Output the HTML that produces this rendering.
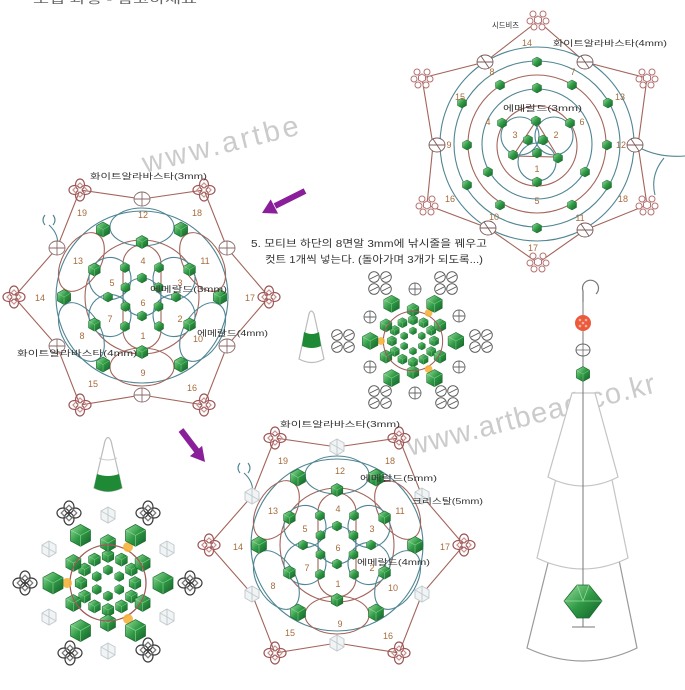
<!DOCTYPE html>
<html><head><meta charset="utf-8">
<style>html,body{margin:0;padding:0;background:#fff}svg{display:block}</style>
</head><body>
<svg width="685" height="690" viewBox="0 0 685 690" xmlns="http://www.w3.org/2000/svg">
<style>
.n{font-family:"Liberation Sans",sans-serif;font-size:9px;fill:#a66c3c;text-anchor:middle}
.k{font-family:"Liberation Sans","Noto Sans CJK KR",sans-serif;font-size:8px;fill:#333}
.t{fill:none;stroke:#4f8593;stroke-width:1.1}
.b{fill:none;stroke:#a3645a;stroke-width:1.1}
.w{font-family:"Liberation Sans",sans-serif;fill:#cbcbcb}
</style>
<defs>
<linearGradient id="gg" x1="0" y1="0" x2="1" y2="1">
<stop offset="0" stop-color="#9be0a0"/><stop offset=".5" stop-color="#2f9a45"/><stop offset="1" stop-color="#145f28"/>
</linearGradient>
<g id="g5"><polygon points="0,-5 4.5,-2.5 4.5,2.5 0,5 -4.5,2.5 -4.5,-2.5" fill="url(#gg)" stroke="#1a6a2c" stroke-width=".5"/></g>
<g id="g6"><polygon points="0,-6.5 5.8,-3.3 5.8,3.3 0,6.5 -5.8,3.3 -5.8,-3.3" fill="url(#gg)" stroke="#1a6a2c" stroke-width=".6"/><path d="M-5.8,-3.3L0,0L5.8,-3.3M0,0V6.5" stroke="#a8e6ad" stroke-width=".5" fill="none" opacity=".7"/></g>
<g id="g7"><polygon points="0,-7.5 6.6,-3.8 6.6,3.8 0,7.5 -6.6,3.8 -6.6,-3.8" fill="url(#gg)" stroke="#1a6a2c" stroke-width=".6"/><path d="M-6.6,-3.8L0,0L6.6,-3.8M0,0V7.5" stroke="#a8e6ad" stroke-width=".5" fill="none" opacity=".7"/></g>
<g id="g8"><polygon points="0,-8.5 7.5,-4.3 7.5,4.3 0,8.5 -7.5,4.3 -7.5,-4.3" fill="url(#gg)" stroke="#1a6a2c" stroke-width=".6"/><path d="M-7.5,-4.3L0,0L7.5,-4.3M0,0V8.5" stroke="#a8e6ad" stroke-width=".6" fill="none" opacity=".7"/></g>
<g id="g11"><polygon points="0,-11 10,-5.5 10,5.5 0,11 -10,5.5 -10,-5.5" fill="url(#gg)" stroke="#1a6a2c" stroke-width=".7"/><path d="M-10,-5.5L0,0L10,-5.5M0,0V11" stroke="#a8e6ad" stroke-width=".7" fill="none" opacity=".7"/></g>
<g id="cxa" fill="#fff" stroke="#7a5a5a" stroke-width=".9"><ellipse rx="8" ry="7"/><path d="M-8,0H8M-4,-6L4,6" fill="none"/></g>
<g id="cx" fill="#fff" stroke="#8a6a6a" stroke-width=".9"><ellipse rx="8" ry="7"/><path d="M-8,0H8M0,-7V7" fill="none"/></g>
<g id="cs" fill="#fff" stroke="#666" stroke-width=".9"><circle r="6"/><path d="M-6,0H6M0,-6V6" fill="none"/></g>
<g id="cf" fill="#f1f4f5" stroke="#c3cbcf" stroke-width="1"><polygon points="0,-8 7,-4 7,4 0,8 -7,4 -7,-4"/><path d="M0,-8V8M-7,-4L7,4" fill="none"/></g>
<g id="pc" fill="#fff" stroke="#b47272" stroke-width="1">
<polygon points="0,-4 3.5,-2 3.5,2 0,4 -3.5,2 -3.5,-2"/>
<circle cx="-5" cy="-6" r="3"/><circle cx="5" cy="-6" r="3"/><circle cx="8" cy="1" r="3"/><circle cx="4" cy="7" r="3"/><circle cx="-4" cy="7" r="3"/><circle cx="-8" cy="1" r="3"/>
</g>
<g id="kp" fill="none" stroke="#9c5656" stroke-width="1.2">
<ellipse cx="0" cy="-5.5" rx="4.5" ry="5.5"/><ellipse cx="5.5" cy="0" rx="5.5" ry="4.5"/>
<ellipse cx="0" cy="5.5" rx="4.5" ry="5.5"/><ellipse cx="-5.5" cy="0" rx="5.5" ry="4.5"/>
<rect x="-5" y="-5" width="10" height="10" transform="rotate(45)" stroke="#c79090"/>
<circle r="1.8" fill="#fff" stroke="none"/>
</g>
<g id="kd" fill="none" stroke="#3c3c3c" stroke-width="1.2">
<ellipse cx="0" cy="-6" rx="5" ry="6"/><ellipse cx="6" cy="0" rx="6" ry="5"/>
<ellipse cx="0" cy="6" rx="5" ry="6"/><ellipse cx="-6" cy="0" rx="6" ry="5"/>
<rect x="-5.5" y="-5.5" width="11" height="11" transform="rotate(45)" stroke="#777"/>
</g>
<g id="cl" fill="#fff" stroke="#555" stroke-width=".9">
<circle cx="-6" cy="-6" r="5.3"/><circle cx="6" cy="-6" r="5.3"/><circle cx="-6" cy="6" r="5.3"/><circle cx="6" cy="6" r="5.3"/>
<path d="M-10,-4L-2,-8M2,-4L10,-8M-10,8L-2,4M2,8L10,4" fill="none"/>
</g>
<g id="flw">
<path class="b" d="M-62,-107 L-85,-49 L-128,0 L-85,49 L-62,108 L0,98 L62,108 L85,49 L127,0 L85,-49 L62,-107 L0,-98 Z"/>
<circle class="t" r="86"/>
<circle class="b" r="57"/>
<ellipse class="t" transform="rotate(-90) translate(70,0)" rx="19" ry="32"/>
<ellipse class="b" transform="rotate(-30) translate(70,0)" rx="19" ry="32"/>
<ellipse class="t" transform="rotate(30) translate(70,0)" rx="19" ry="32"/>
<ellipse class="b" transform="rotate(90) translate(70,0)" rx="19" ry="32"/>
<ellipse class="t" transform="rotate(150) translate(70,0)" rx="19" ry="32"/>
<ellipse class="b" transform="rotate(210) translate(70,0)" rx="19" ry="32"/>
<rect class="b" x="-19" y="-52" width="38" height="104" rx="19"/>
<circle class="t" transform="rotate(-30) translate(37,0)" r="21"/>
<circle class="t" transform="rotate(30) translate(37,0)" r="21"/>
<circle class="t" transform="rotate(150) translate(37,0)" r="21"/>
<circle class="t" transform="rotate(210) translate(37,0)" r="21"/>
<circle class="t" r="19"/>
<path class="t" d="M-97,-82 q-4,5 0,10 M-89,-82 q4,5 0,10 M-93,-72 Q-82,-62 -85,-49"/>
<use href="#g6" x="47.6" y="27.5"/><use href="#g6" x="0" y="55"/><use href="#g6" x="-47.6" y="27.5"/>
<use href="#g6" x="-47.6" y="-27.5"/><use href="#g6" x="0" y="-55"/><use href="#g6" x="47.6" y="-27.5"/>
<use href="#g5" x="34" y="0"/><use href="#g5" x="17" y="29.4"/><use href="#g5" x="-17" y="29.4"/>
<use href="#g5" x="-34" y="0"/><use href="#g5" x="-17" y="-29.4"/><use href="#g5" x="17" y="-29.4"/>
<use href="#g5" x="16.5" y="9.5"/><use href="#g5" x="0" y="19"/><use href="#g5" x="-16.5" y="9.5"/>
<use href="#g5" x="-16.5" y="-9.5"/><use href="#g5" x="0" y="-19"/><use href="#g5" x="16.5" y="-9.5"/>
<use href="#kp" x="-62" y="-107"/><use href="#kp" x="62" y="-107"/><use href="#kp" x="127" y="0"/>
<use href="#kp" x="62" y="108"/><use href="#kp" x="-62" y="108"/><use href="#kp" x="-128" y="0"/>
</g>
<g id="core">
<use href="#g5" x="11.3" y="6.5"/><use href="#g5" x="0" y="13"/><use href="#g5" x="-11.3" y="6.5"/>
<use href="#g5" x="-11.3" y="-6.5"/><use href="#g5" x="0" y="-13"/><use href="#g5" x="11.3" y="-6.5"/>
<use href="#g6" x="27" y="0"/><use href="#g6" x="23.4" y="13.5"/><use href="#g6" x="13.5" y="23.4"/>
<use href="#g6" x="0" y="27"/><use href="#g6" x="-13.5" y="23.4"/><use href="#g6" x="-23.4" y="13.5"/>
<use href="#g6" x="-27" y="0"/><use href="#g6" x="-23.4" y="-13.5"/><use href="#g6" x="-13.5" y="-23.4"/>
<use href="#g6" x="0" y="-27"/><use href="#g6" x="13.5" y="-23.4"/><use href="#g6" x="23.4" y="-13.5"/>
<use href="#g8" x="34.6" y="20"/><use href="#g8" x="0" y="40"/><use href="#g8" x="-34.6" y="20"/>
<use href="#g8" x="-34.6" y="-20"/><use href="#g8" x="0" y="-40"/><use href="#g8" x="34.6" y="-20"/>
<circle r="38" fill="none" stroke="#a05a5a" stroke-width="1.3"/>
<circle cx="20" cy="-36" r="5" fill="#f6b23c" opacity=".9"/><circle cx="-41" cy="0" r="5" fill="#f6b23c" opacity=".9"/><circle cx="20" cy="36" r="5" fill="#f6b23c" opacity=".9"/>
<use href="#g11" x="55" y="0"/><use href="#g11" x="27.5" y="47.6"/><use href="#g11" x="-27.5" y="47.6"/>
<use href="#g11" x="-55" y="0"/><use href="#g11" x="-27.5" y="-47.6"/><use href="#g11" x="27.5" y="-47.6"/>
</g>
</defs>

<!-- top cut-off text -->
<text x="33" y="3" font-family="Liberation Sans, Noto Sans CJK KR, sans-serif" font-size="11" fill="#666" textLength="164" lengthAdjust="spacingAndGlyphs">조립 과정 - 참고하세요</text>

<!-- watermarks -->
<text class="w" x="145" y="173" font-size="29" transform="rotate(-14 145 173)" textLength="160" lengthAdjust="spacing">www.artbe</text>
<text class="w" x="410" y="456" font-size="29" transform="rotate(-14.5 410 456)" textLength="255" lengthAdjust="spacing">www.artbead.co.kr</text>

<!-- Diagram A -->
<path class="b" d="M538,21 L485,62 L422,78 L433,145 L427,205 L488,228 L538,263 L585,230 L647,205 L638,145 L647,78 L585,62 Z"/>
<circle class="t" cx="537" cy="144" r="97"/>
<circle class="t" cx="537" cy="144" r="83"/>
<circle class="b" cx="537" cy="144" r="69"/>
<circle class="t" cx="537" cy="144" r="55"/>
<circle class="b" cx="537" cy="146" r="40"/>
<circle class="t" cx="520" cy="136" r="19"/>
<circle class="t" cx="554" cy="136" r="19"/>
<circle class="t" cx="537" cy="162" r="19"/>
<path class="b" d="M536,121 L513,156 L558,157 Z"/>
<path class="t" d="M640,148 Q660,158 685,156 M664,158 Q650,175 655,195"/>
<use href="#cxa" x="485" y="62"/><use href="#cxa" x="585" y="62"/><use href="#cxa" x="437" y="145"/>
<use href="#cxa" x="635" y="145"/><use href="#cxa" x="488" y="228"/><use href="#cxa" x="585" y="230"/>
<use href="#pc" x="538" y="20"/><use href="#pc" x="422" y="78"/><use href="#pc" x="647" y="78"/>
<use href="#pc" x="427" y="205"/><use href="#pc" x="647" y="205"/><use href="#pc" x="538" y="262"/>
<use href="#g5" x="537" y="62"/><use href="#g5" x="500" y="85"/><use href="#g5" x="572" y="85"/>
<use href="#g5" x="537" y="88"/><use href="#g5" x="462" y="103"/><use href="#g5" x="608" y="103"/>
<use href="#g5" x="502" y="123"/><use href="#g5" x="570" y="123"/><use href="#g5" x="536" y="121"/>
<use href="#g5" x="528" y="140"/><use href="#g5" x="543" y="140"/><use href="#g5" x="513" y="155"/>
<use href="#g5" x="537" y="153"/><use href="#g5" x="558" y="158"/><use href="#g5" x="467" y="145"/>
<use href="#g5" x="607" y="145"/><use href="#g5" x="488" y="172"/><use href="#g5" x="585" y="172"/>
<use href="#g5" x="537" y="182"/><use href="#g5" x="467" y="185"/><use href="#g5" x="607" y="185"/>
<use href="#g5" x="500" y="205"/><use href="#g5" x="572" y="205"/><use href="#g5" x="537" y="228"/>
<text class="k" x="492" y="28" textLength="27" lengthAdjust="spacingAndGlyphs">시드비즈</text>
<text class="n" x="527" y="46">14</text>
<text class="k" x="553" y="46" textLength="114" lengthAdjust="spacingAndGlyphs">화이트알라바스타(4mm)</text>
<text class="n" x="573" y="75">7</text><text class="n" x="492" y="75">8</text>
<text class="n" x="460" y="100">15</text><text class="n" x="620" y="100">13</text>
<text class="k" x="503" y="111" textLength="79" lengthAdjust="spacingAndGlyphs">에메랄드(3mm)</text>
<text class="n" x="488" y="125">4</text><text class="n" x="582" y="125">6</text>
<text class="n" x="515" y="138">3</text><text class="n" x="556" y="138">2</text>
<text class="n" x="449" y="148">9</text><text class="n" x="621" y="148">12</text>
<text class="n" x="537" y="172">1</text><text class="n" x="537" y="204">5</text>
<text class="n" x="450" y="202">16</text><text class="n" x="623" y="202">18</text>
<text class="n" x="494" y="220">10</text><text class="n" x="580" y="221">11</text>
<text class="n" x="533" y="251">17</text>

<!-- arrows -->
<g fill="#8a1f9a" stroke="#8a1f9a">
<line x1="305" y1="191" x2="275" y2="206" stroke-width="6"/>
<polygon points="262,213 270.7,199.4 278.1,213.6" stroke="none"/>
<line x1="181" y1="430" x2="197" y2="451" stroke-width="6"/>
<polygon points="205,462 189.9,456.1 202.1,445.9" stroke="none"/>
</g>

<!-- Diagram B -->
<g transform="translate(142,297)">
<use href="#flw"/>
<use href="#cx" x="0" y="-98"/><use href="#cx" x="85" y="-49"/><use href="#cx" x="85" y="49"/>
<use href="#cx" x="0" y="98"/><use href="#cx" x="-85" y="49"/><use href="#cx" x="-85" y="-49"/>
<use href="#g7" x="78" y="0"/><use href="#g7" x="39" y="67.5"/><use href="#g7" x="-39" y="67.5"/>
<use href="#g7" x="-78" y="0"/><use href="#g7" x="-39" y="-67.5"/><use href="#g7" x="39" y="-67.5"/>
</g>
<text class="k" x="90" y="179" textLength="117" lengthAdjust="spacingAndGlyphs">화이트알라바스타(3mm)</text>
<text class="n" x="82" y="216">19</text><text class="n" x="143" y="218">12</text><text class="n" x="197" y="216">18</text>
<text class="n" x="78" y="264">13</text><text class="n" x="205" y="264">11</text><text class="n" x="143" y="264">4</text>
<text class="n" x="112" y="286">5</text><text class="n" x="180" y="286">3</text>
<text class="k" x="150" y="292" textLength="77" lengthAdjust="spacingAndGlyphs">에메랄드(3mm)</text>
<text class="n" x="40" y="301">14</text><text class="n" x="250" y="301">17</text><text class="n" x="143" y="306">6</text>
<text class="n" x="110" y="322">7</text><text class="n" x="180" y="322">2</text>
<text class="k" x="197" y="336" textLength="71" lengthAdjust="spacingAndGlyphs">에메랄드(4mm)</text>
<text class="n" x="82" y="339">8</text><text class="n" x="198" y="342">10</text><text class="n" x="143" y="339">1</text>
<text class="k" x="17" y="356" textLength="120" lengthAdjust="spacingAndGlyphs">화이트알라바스타(4mm)</text>
<text class="n" x="143" y="376">9</text><text class="n" x="93" y="387">15</text><text class="n" x="192" y="391">16</text>

<!-- Instruction text -->
<text class="k" x="251" y="247" font-size="10" textLength="236" lengthAdjust="spacingAndGlyphs" style="font-size:10px">5. 모티브 하단의 8면알 3mm에 낚시줄을 꿰우고</text>
<text class="k" x="265" y="263" textLength="218" lengthAdjust="spacingAndGlyphs" style="font-size:10px">컷트 1개씩 넣는다. (돌아가며 3개가 되도록...)</text>

<!-- Diagram E -->
<g transform="translate(413,341)">
<use href="#core" transform="scale(.78)"/>
<use href="#cl" x="-33" y="-58"/><use href="#cl" x="33" y="-58"/><use href="#cl" x="68" y="0"/>
<use href="#cl" x="34" y="56"/><use href="#cl" x="-33" y="56"/><use href="#cl" x="-70" y="0"/>
<use href="#cs" x="2" y="-52"/><use href="#cs" x="46" y="-25"/><use href="#cs" x="46" y="26"/>
<use href="#cs" x="2" y="52"/><use href="#cs" x="-43" y="26"/><use href="#cs" x="-43" y="-24"/>
</g>
<path d="M309,314 Q311,308 314,314 L324,359 Q312,366 299,359 Z" fill="#fff" stroke="#bbb" stroke-width="1.2"/>
<path d="M304,332 Q312,336 319,332 L321,346 Q312,350 302,346 Z" fill="#1f8a35"/>

<!-- Diagram D -->
<g transform="translate(108,583)">
<use href="#core"/>
<use href="#kd" x="-39" y="-70"/><use href="#kd" x="40" y="-70"/><use href="#kd" x="-83" y="0"/>
<use href="#kd" x="82" y="0"/><use href="#kd" x="-38" y="70"/><use href="#kd" x="40" y="67"/>
<use href="#cf" x="0" y="-68"/><use href="#cf" x="59" y="-34"/><use href="#cf" x="59" y="34"/>
<use href="#cf" x="0" y="68"/><use href="#cf" x="-59" y="34"/><use href="#cf" x="-59" y="-34"/>
</g>
<path d="M105,441 Q108,434 111,441 L122,488 Q108,495 94,488 Z" fill="#fff" stroke="#bbb" stroke-width="1.2"/>
<path d="M99,458 Q108,462 117,458" fill="none" stroke="#ccc"/>
<path d="M97,474 Q108,478 119,474 L122,488 Q108,495 94,488 Z" fill="#1f8a35"/>

<!-- Diagram C -->
<g transform="translate(337,545)">
<use href="#flw"/>
<use href="#cf" x="0" y="-98"/><use href="#cf" x="85" y="-49"/><use href="#cf" x="85" y="49"/>
<use href="#cf" x="0" y="98"/><use href="#cf" x="-85" y="49"/><use href="#cf" x="-85" y="-49"/>
<use href="#g8" x="78" y="0"/><use href="#g8" x="39" y="67.5"/><use href="#g8" x="-39" y="67.5"/>
<use href="#g8" x="-78" y="0"/><use href="#g8" x="-39" y="-67.5"/><use href="#g8" x="39" y="-67.5"/>
</g>
<text class="k" x="280" y="427" textLength="120" lengthAdjust="spacingAndGlyphs">화이트알라바스타(3mm)</text>
<text class="n" x="283" y="464">19</text><text class="n" x="340" y="474">12</text><text class="n" x="390" y="464">18</text>
<text class="k" x="360" y="481" textLength="77" lengthAdjust="spacingAndGlyphs">에메랄드(5mm)</text>
<text class="k" x="412" y="504" textLength="71" lengthAdjust="spacingAndGlyphs">크리스탈(5mm)</text>
<text class="n" x="273" y="514">13</text><text class="n" x="400" y="514">11</text><text class="n" x="338" y="512">4</text>
<text class="n" x="305" y="532">5</text><text class="n" x="372" y="532">3</text>
<text class="n" x="238" y="550">14</text><text class="n" x="445" y="550">17</text><text class="n" x="338" y="551">6</text>
<text class="k" x="357" y="565" textLength="73" lengthAdjust="spacingAndGlyphs">에메랄드(4mm)</text>
<text class="n" x="307" y="571">7</text><text class="n" x="372" y="571">2</text>
<text class="n" x="273" y="589">8</text><text class="n" x="338" y="587">1</text><text class="n" x="393" y="591">10</text>
<text class="n" x="340" y="627">9</text><text class="n" x="290" y="636">15</text><text class="n" x="388" y="639">16</text>

<!-- Tree -->
<path d="M550,555 L618,555 L637,648 Q583,674 527,648 Z" fill="#fff" stroke="#999" stroke-width="1.2"/>
<path d="M558,470 L610,470 L628,558 Q583,580 537,558 Z" fill="#fff" stroke="#c4c4c4" stroke-width="1.2"/>
<path d="M572,393 L595,393 L618,477 Q583,495 548,477 Z" fill="#fff" stroke="#c4c4c4" stroke-width="1.2"/>
<line x1="583" y1="300" x2="583" y2="627" stroke="#777" stroke-width="1"/>
<line x1="572" y1="627" x2="595" y2="627" stroke="#777" stroke-width="1"/>
<path d="M583,302 L583,291 A8,8 0 1 1 596,294" fill="none" stroke="#777" stroke-width="1.2"/>
<circle cx="583" cy="323" r="8" fill="#ec5a3c"/>
<g fill="#f9b0a0"><circle cx="580" cy="320" r="1.3"/><circle cx="586" cy="320" r="1.3"/><circle cx="580" cy="326" r="1.3"/><circle cx="586" cy="326" r="1.3"/><circle cx="583" cy="323" r="1.3"/></g>
<g transform="translate(583,350)"><ellipse rx="7" ry="6" fill="#fff" stroke="#666" stroke-width="1"/><path d="M-7,0H7M0,-6V6" stroke="#666" stroke-width=".8"/></g>
<use href="#g7" x="583" y="374"/>
<polygon points="577,585 589,585 602,601 589,618 577,618 564,601" fill="url(#gg)" stroke="#1a6a2c" stroke-width=".8"/>
<path d="M564,601H602M577,585L583,601L589,585" stroke="#a8e6ad" stroke-width=".8" fill="none" opacity=".8"/>
</svg>
</body></html>
